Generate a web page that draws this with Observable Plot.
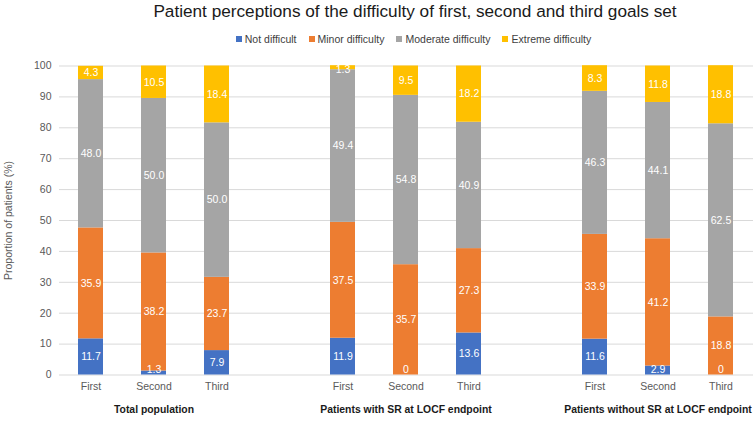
<!DOCTYPE html>
<html>
<head>
<meta charset="utf-8">
<script src="https://cdn.jsdelivr.net/npm/d3@7"></script>
<script src="https://cdn.jsdelivr.net/npm/@observablehq/plot@0.6"></script>
<style>
  html, body { margin: 0; padding: 0; background: #fff; }
  #wrap { width: 753px; height: 421px; position: relative; font-family: "Liberation Sans", Arial, sans-serif; }
  #head { position: relative; width: 753px; height: 52px; }
  #title { position: absolute; left: 0; width: 830px; top: 1px; text-align: center; font-size: 17.2px; color: #1a1a1a; white-space: nowrap; }
  #legend { position: absolute; left: 0; width: 827px; top: 33px; text-align: center; font-size: 10.5px; color: #404040; white-space: nowrap; }
  #legend span.item { margin: 0 6px; }
  #legend span.sw { display: inline-block; width: 6px; height: 6px; margin-right: 3px; vertical-align: 1px; }
</style>
</head>
<body>
<div id="wrap">
  <div id="head"><div id="title"></div><div id="legend"></div></div>
  <div id="chart"></div>
</div>
<script>
const titleText = "Patient perceptions of the difficulty of first, second and third goals set";
const groups = ["Total population", "Patients with SR at LOCF endpoint", "Patients without SR at LOCF endpoint"];
const goals = ["First", "Second", "Third"];
const series = ["Not difficult", "Minor difficulty", "Moderate difficulty", "Extreme difficulty"];
const colors = ["#4472C4", "#ED7D31", "#A5A5A5", "#FFC000"];
// values in order: Total (First, Second, Third), with SR (...), without SR (...)
const notDifficult = [11.7, 1.3, 7.9, 11.9, 0, 13.6, 11.6, 2.9, 0];
const minorDifficulty = [35.9, 38.2, 23.7, 37.5, 35.7, 27.3, 33.9, 41.2, 18.8];
const moderateDifficulty = [48.0, 50.0, 50.0, 49.4, 54.8, 40.9, 46.3, 44.1, 62.5];
const extremeDifficulty = [4.3, 10.5, 18.4, 1.3, 9.5, 18.2, 8.3, 11.8, 18.8];
const yTicks = [0, 10, 20, 30, 40, 50, 60, 70, 80, 90, 100];
const yLabel = "Proportion of patients (%)";

// slot domain: 3 goals per group with an empty slot between groups
const slots = [];
groups.forEach((g, gi) => {
  if (gi > 0) slots.push("gap" + gi);
  goals.forEach(k => slots.push(gi + "|" + k));
});
const seriesValues = [notDifficult, minorDifficulty, moderateDifficulty, extremeDifficulty];

const rows = [];
groups.forEach((g, gi) => {
  goals.forEach((k, ki) => {
    const idx = gi * 3 + ki;
    let base = 0;
    series.forEach((s, si) => {
      const v = seriesValues[si][idx];
      rows.push({slot: gi + "|" + k, series: s, value: v, y1: base, y2: base + v});
      base += v;
    });
  });
});
const groupRows = groups.map((g, gi) => ({slot: gi + "|" + goals[1], label: g}));

// header
document.getElementById("title").textContent = titleText;
const leg = document.getElementById("legend");
series.forEach((s, i) => {
  const it = document.createElement("span");
  it.className = "item";
  const sw = document.createElement("span");
  sw.className = "sw";
  sw.style.background = colors[i];
  it.appendChild(sw);
  it.appendChild(document.createTextNode(s));
  leg.appendChild(it);
});

const chart = Plot.plot({
  width: 753,
  height: 369,
  marginTop: 13.5,
  marginBottom: 46.5,
  marginLeft: 59,
  marginRight: 0,
  style: {fontFamily: "Liberation Sans, Arial, sans-serif", fontSize: "10.5px", color: "#595959", background: "#fff"},
  x: {type: "band", domain: slots, paddingInner: 0.6, paddingOuter: 0.3},
  y: {domain: [0, 100]},
  color: {domain: series, range: colors},
  marks: [
    Plot.ruleY(yTicks, {stroke: "#d9d9d9", strokeWidth: 1}),
    Plot.barY(rows, {x: "slot", y1: "y1", y2: "y2", fill: "series", inset: 0, insetLeft: 0, insetRight: 0}),
    Plot.text(rows, {
      x: "slot",
      y: d => Math.min(Math.max((d.y1 + d.y2) / 2, 1.7), 98.8),
      text: d => d.value === 0 ? "0" : d.value.toFixed(1),
      fill: "#fff",
      fontSize: 10.5
    }),
    Plot.axisY({ticks: yTicks, tickSize: 0, tickPadding: 8, fontSize: 10.5, label: yLabel, labelAnchor: "center", labelArrow: "none", labelOffset: 55}),
    Plot.axisX({tickSize: 0, tickPadding: 8, fontSize: 10.5, label: null, tickFormat: d => d.startsWith("gap") ? "" : d.split("|")[1]}),
    Plot.text(groupRows, {x: "slot", text: "label", frameAnchor: "bottom", dy: 38, fontWeight: "bold", fontSize: 10.4, fill: "#1a1a1a"})
  ]
});
document.getElementById("chart").appendChild(chart);
</script>
</body>
</html>
